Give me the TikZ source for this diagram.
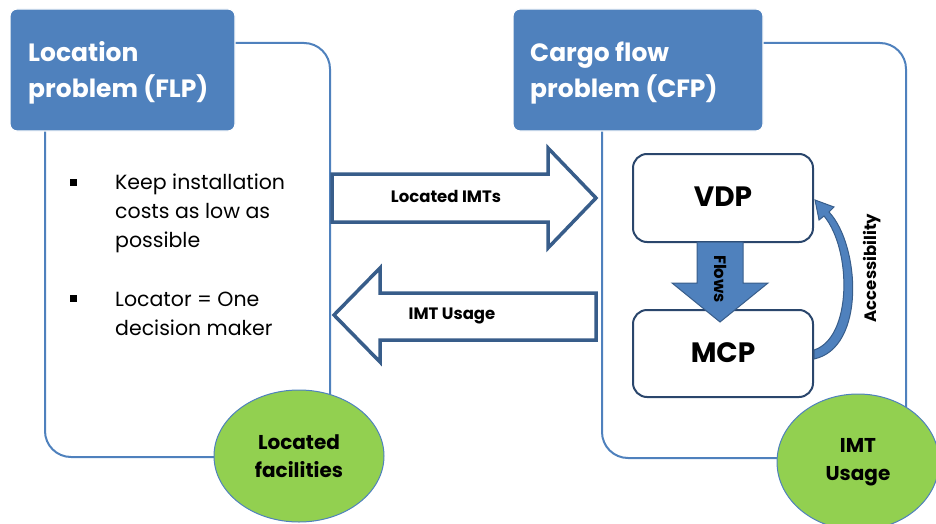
\documentclass[tikz,border=0pt]{standalone}
\usepackage{fontspec}
\setmainfont{Poppins}
\usetikzlibrary{shapes.geometric,calc}
\definecolor{hdr}{HTML}{4F81BD}
\definecolor{dk}{HTML}{385D8A}
\definecolor{navy}{HTML}{2A466C}
\definecolor{grn}{HTML}{92D050}
\begin{document}
\begin{tikzpicture}[x=1pt,y=-1pt,
  frame/.style={draw=hdr, line width=2pt, rounded corners=26pt, minimum width=#1, inner sep=0pt},
  hdrbox/.style={fill=hdr, draw=white, line width=1.2pt, rounded corners=7pt, minimum height=122pt},
  hdrtext/.style={text=white, font=\fontsize{25}{36}\selectfont\bfseries, align=left, anchor=west, inner sep=0pt},
  ell/.style={ellipse, fill=grn, draw=hdr, line width=1pt, font=\fontsize{20}{28}\selectfont\bfseries,
    align=center, inner sep=0pt},
  pbox/.style={draw=navy, line width=2pt, fill=white, rounded corners=14pt, minimum width=180pt,
    font=\fontsize{28}{32}\selectfont\bfseries},
  blk/.style={draw=dk, line width=3.5pt, fill=white, line join=miter},
  blab/.style={font=\fontsize{16.5}{20}\selectfont\bfseries},
  body/.style={font=\fontsize{20.5}{29}\selectfont, align=left, anchor=north west, inner sep=0pt},
  bul/.style={fill=black, minimum size=7pt, inner sep=0pt},
  rlab/.style={font=\fontsize{16.5}{18}\selectfont\bfseries}
]
\useasboundingbox (0,0) rectangle (936,524);

% frames
\node[frame=285pt, minimum height=414pt] (lframe) at (187.5,250) {};
\node[frame=304pt, minimum height=415pt] (rframe) at (754,250.5) {};

% headers
\node[hdrbox, minimum width=225pt] (lhdr) at (122.5,70) {};
\node[hdrtext] (lhdrt) at (28,73) {Location\\problem (FLP)};
\node[hdrbox, minimum width=250pt] (rhdr) at (638,70) {};
\node[hdrtext] (rhdrt) at (530,73) {Cargo flow\\problem (CFP)};

% bullets
\node[bul] (b1) at (73.5,182) {};
\node[body] (t1) at (115,174) {Keep installation\\costs as low as\\possible};
\node[bul] (b2) at (73.5,298.5) {};
\node[body] (t2) at (115,292) {Locator = One\\decision maker};

% block arrows
\draw[blk] (332,174) -- (548,174) -- (548,148) -- (596,198) -- (548,248) -- (548,222) -- (332,222) -- cycle;
\node[blab] (l1) at (446,196) {Located IMTs};
\draw[blk] (596,293) -- (380,293) -- (380,268) -- (334,315) -- (380,362) -- (380,340) -- (596,340) -- cycle;
\node[blab] (l2) at (452,316) {IMT Usage};

% VDP / MCP
\node[pbox, minimum height=88pt] (vdp) at (723,198) {\raisebox{2pt}{VDP}};
\node[pbox, minimum height=87pt] (mcp) at (723,353.5) {\raisebox{2pt}{MCP}};

% flows arrow
\draw[draw=dk, fill=hdr, line width=1pt, line join=miter]
  (697,242) -- (743,242) -- (743,283) -- (768,283) -- (720,322) -- (672,283) -- (697,283) -- cycle;
\node[rlab, rotate=-90] (fl) at (721,279) {Flows};

% accessibility arrow
\draw[draw=dk, fill=hdr, line width=1pt]
  (814,359) .. controls (866,348) and (860,245) .. (829,212) -- (834,207) -- (815,200) -- (819,220)
  -- (824,216) .. controls (852,250) and (852,338) .. (814,350) -- cycle;
\node[rlab, rotate=90] (acc) at (872,268) {Accessibility};

% ellipses
\node[ell, minimum width=170pt, minimum height=132pt] (lell) at (299,456) {Located\\facilities};
\node[ell, minimum width=162pt, minimum height=136pt] (rell) at (858,462) {IMT\\Usage};
\end{tikzpicture}
\end{document}
